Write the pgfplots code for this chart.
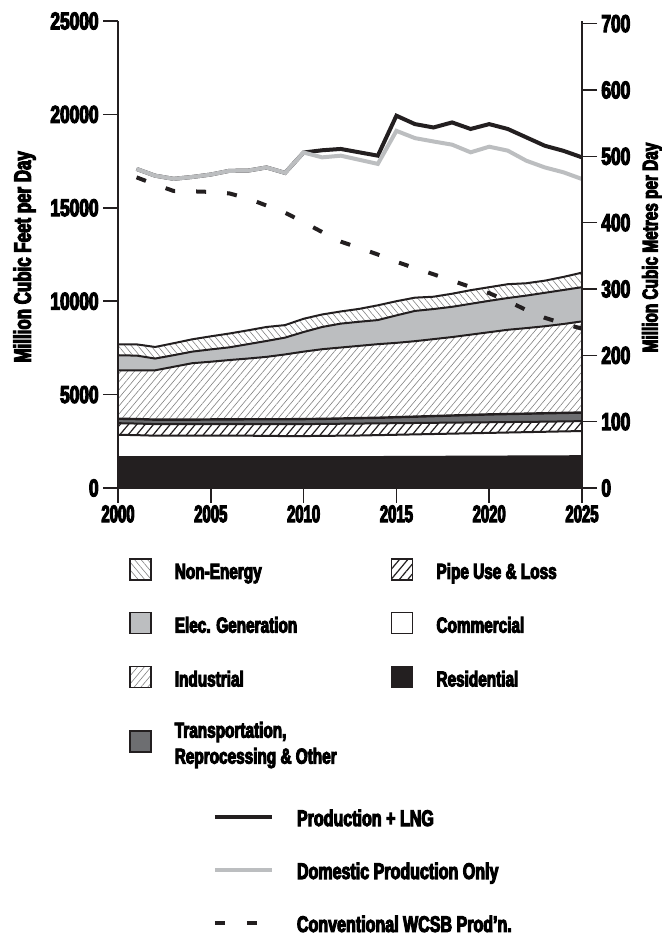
\documentclass[border=0pt]{standalone}
\usepackage{fontspec}
\setmainfont{Liberation Sans}[FakeStretch=0.71, BoldFeatures={FakeBold=4.5}]
\newfontfamily\narrowfont{Liberation Sans}[FakeStretch=0.62, BoldFeatures={FakeBold=4.5}]
\usepackage{pgfplots}
\usepackage{pgfplotstable}
\pgfplotsset{compat=1.18}
\usetikzlibrary{patterns.meta}

\definecolor{pblack}{RGB}{35,31,32}
\definecolor{elecgray}{RGB}{188,190,192}
\definecolor{transgray}{RGB}{109,110,113}
\definecolor{hatchgray}{RGB}{130,130,130}

% cumulative tops of the stacked demand layers (million cubic feet per day)
\pgfplotstableread{
year res  com  pipe trans ind  elec  ne
2000 1710 2850 3470 3710 6300 7100  7690
2001 1710 2830 3450 3690 6300 7090  7690
2002 1710 2800 3420 3660 6300 6930  7550
2003 1710 2800 3420 3660 6490 7110  7750
2004 1710 2800 3420 3660 6680 7300  7960
2005 1710 2800 3420 3670 6760 7420  8120
2006 1710 2800 3420 3670 6850 7530  8270
2007 1710 2800 3420 3680 6930 7700  8440
2008 1710 2790 3420 3680 7020 7870  8620
2009 1710 2780 3420 3680 7150 8050  8720
2010 1710 2780 3420 3690 7300 8350  9060
2011 1710 2790 3430 3700 7430 8620  9290
2012 1710 2800 3440 3720 7520 8800  9450
2013 1710 2810 3450 3740 7610 8900  9590
2014 1710 2830 3460 3760 7700 8990  9780
2015 1720 2850 3470 3790 7770 9240  10000
2016 1720 2870 3480 3820 7860 9480  10190
2017 1720 2890 3490 3850 7970 9580  10240
2018 1730 2910 3500 3880 8080 9700  10400
2019 1730 2930 3510 3910 8210 9860  10590
2020 1730 2950 3520 3940 8340 10020 10750
2021 1740 2970 3530 3960 8470 10170 10910
2022 1740 2990 3540 3980 8560 10300 10960
2023 1750 3010 3550 4000 8660 10450 11100
2024 1750 3030 3565 4020 8780 10600 11300
2025 1760 3050 3580 4040 8920 10750 11530
}\consumption

% supply lines
\pgfplotstableread{
year prod  dom   conv
2001 17080 17080 16630
2002 16720 16720 16250
2003 16550 16550 15900
2004 16650 16650 15880
2005 16780 16780 15850
2006 16980 16980 15770
2007 16990 16990 15500
2008 17160 17160 15120
2009 16870 16870 14740
2010 17960 17960 14230
2011 18080 17700 13700
2012 18150 17790 13190
2013 17970 17570 12850
2014 17790 17350 12500
2015 19930 19120 12110
2016 19480 18730 11770
2017 19300 18550 11440
2018 19570 18380 11100
2019 19220 17970 10760
2020 19480 18270 10430
2021 19220 18060 10000
2022 18770 17520 9530
2023 18320 17160 9110
2024 18050 16900 8800
2025 17700 16540 8530
}\supply

\tikzset{
  neFill/.style={fill=white, postaction={pattern={Lines[angle=-50,distance=2.5pt,line width=0.3pt]}, pattern color=hatchgray}},
  elecFill/.style={fill=elecgray},
  indFill/.style={fill=white, postaction={pattern={Lines[angle=50,distance=2.6pt,line width=0.3pt]}, pattern color=hatchgray}},
  transFill/.style={fill=transgray},
  pipeFill/.style={fill=white, postaction={pattern={Lines[angle=50,distance=3.2pt,line width=0.6pt]}, pattern color=pblack}},
  comFill/.style={fill=white},
  resFill/.style={fill=pblack},
}
\pgfplotsset{
  boxlegend/.style={legend image code/.code={\draw[#1, draw=pblack, line width=0.8pt] (0pt,-0.5pt) rectangle (10.5pt,10pt);}},
  linelegend/.style={legend image code/.code={\draw[#1] (0pt,4.5pt) -- (28.5pt,4.5pt);}},
  common/.style={
    scale only axis, width=232pt, height=233.5pt,
    xmin=2000, xmax=2025,
    axis line style={-, pblack, line width=1pt},
    /pgf/number format/1000 sep={},
    /pgf/number format/assume math mode=true,
    yticklabel style={font=\bfseries\fontsize{12.2}{14}\selectfont, inner sep=2pt},
    ylabel style={font=\bfseries\fontsize{11.9}{14}\selectfont, anchor=base},
  },
  ticks/.style={
    xtick align=outside, ytick align=outside, major tick length=7.5pt,
    tick style={pblack, line width=0.8pt},
  },
}

\begin{document}
\begin{tikzpicture}
\path[use as bounding box] (-59pt,-224pt) rectangle (272pt,244pt);

\begin{axis}[
    common,
    ymin=0, ymax=25000,
    axis x line*=bottom, axis y line*=left,
    ticks,
    axis on top,
    xtick={2000,2005,...,2025},
    ytick={0,5000,...,25000},
    scaled y ticks=false,
    xticklabel style={font=\narrowfont\bfseries\fontsize{12}{14}\selectfont, inner sep=1pt},
    ylabel={Million Cubic Feet per Day},
    ylabel style={at={(axis description cs:-0.188,0.495)}},
    legend columns=2,
    legend style={draw=none, fill=none, inner sep=0pt, outer sep=0pt,
        at={(axis description cs:0.0237,-0.1499)}, anchor=north west,
        font=\bfseries\fontsize{10.8}{13}\selectfont,
        row sep=15pt,
        /tikz/every odd column/.append style={column sep=11.6pt},
        /tikz/every even column/.append style={column sep=27pt},
        cells={anchor=base west}, nodes={inner sep=0pt}},
]
% fills, top layer first so each lower layer covers the part below it
\addplot[forget plot, draw=none, neFill] table[x=year,y=ne]{\consumption} \closedcycle;
\addplot[forget plot, draw=none, elecFill] table[x=year,y=elec]{\consumption} \closedcycle;
\addplot[forget plot, draw=none, indFill] table[x=year,y=ind]{\consumption} \closedcycle;
\addplot[forget plot, draw=none, transFill] table[x=year,y=trans]{\consumption} \closedcycle;
\addplot[forget plot, draw=none, pipeFill] table[x=year,y=pipe]{\consumption} \closedcycle;
\addplot[forget plot, draw=none, comFill] table[x=year,y=com]{\consumption} \closedcycle;
\addplot[forget plot, draw=none, resFill] table[x=year,y=res]{\consumption} \closedcycle;
% boundary lines
\addplot[forget plot, pblack, line width=1pt] table[x=year,y=ne]{\consumption};
\addplot[forget plot, pblack, line width=1pt] table[x=year,y=elec]{\consumption};
\addplot[forget plot, pblack, line width=1pt] table[x=year,y=ind]{\consumption};
\addplot[forget plot, pblack, line width=1.2pt] table[x=year,y=trans]{\consumption};
\addplot[forget plot, pblack, line width=1pt] table[x=year,y=pipe]{\consumption};
\addplot[forget plot, pblack, line width=1pt] table[x=year,y=com]{\consumption};
% supply lines
\addplot[forget plot, pblack, line width=2pt] table[x=year,y=prod]{\supply};
\addplot[forget plot, elecgray, line width=2pt] table[x=year,y=dom]{\supply};
\addplot[forget plot, pblack, line width=2pt, dash pattern=on 5pt off 10.5pt] table[x=year,y=conv]{\supply};

\addlegendimage{boxlegend=neFill}
\addlegendentry{Non-Energy\vphantom{g}}
\addlegendimage{boxlegend=pipeFill}
\addlegendentry{Pipe Use \& Loss\vphantom{g}}
\addlegendimage{boxlegend=elecFill}
\addlegendentry{Elec. Generation\vphantom{g}}
\addlegendimage{boxlegend=comFill}
\addlegendentry{Commercial\vphantom{g}}
\addlegendimage{boxlegend=indFill}
\addlegendentry{Industrial\vphantom{g}}
\addlegendimage{boxlegend=resFill}
\addlegendentry{Residential\vphantom{g}}
\addlegendimage{boxlegend=transFill}
\addlegendentry{\begin{tabular}{@{}l@{}}Transportation,\\Reprocessing \& Other\end{tabular}}
\end{axis}

\begin{axis}[
    common,
    ymin=0, ymax=704,
    axis x line=none, axis y line*=right,
    ticks,
    ytick={0,100,...,700},
    clip=false,
    legend columns=1,
    legend style={draw=none, fill=none, inner sep=0pt, outer sep=0pt,
        at={(axis description cs:0.2047,-0.6887)}, anchor=north west,
        font=\bfseries\fontsize{11.3}{13}\selectfont,
        row sep=16.8pt,
        /tikz/every odd column/.append style={column sep=11.5pt},
        cells={anchor=base west}, nodes={inner sep=0pt}},
]
% right-hand axis title
\node[rotate=90, anchor=base, inner sep=0pt, font=\bfseries\fontsize{10.8}{13}\selectfont]
    at (rel axis cs:1.163,0.515) {Million Cubic Metres per Day};
\addlegendimage{linelegend={pblack, line width=2pt}}
\addlegendentry{Production + LNG\vphantom{g}}
\addlegendimage{linelegend={elecgray, line width=2pt}}
\addlegendentry{Domestic Production Only\vphantom{g}}
\addlegendimage{linelegend={pblack, line width=2pt, dash pattern=on 5pt off 11pt}}
\addlegendentry{Conventional WCSB Prod'n.}
\end{axis}
\end{tikzpicture}
\end{document}
